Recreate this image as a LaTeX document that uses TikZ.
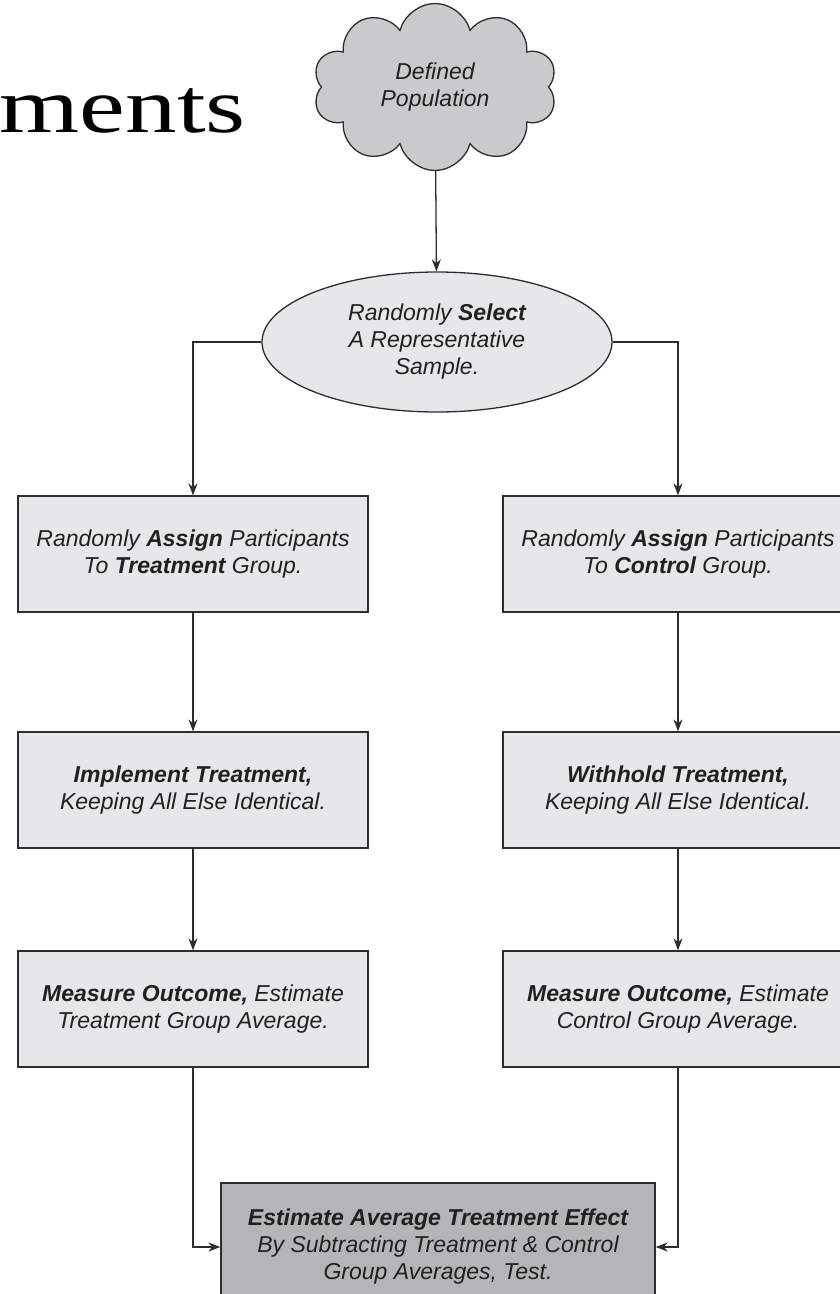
\documentclass[tikz,border=0pt]{standalone}
\usepackage{graphicx}
\usepackage{fontspec}
\setmainfont{Liberation Sans}
\newfontfamily\slidefont{Liberation Serif}
\usepackage{tikz}
\usetikzlibrary{shapes.geometric, shapes.symbols, arrows.meta}
\definecolor{BoxGray}{RGB}{230,231,232}
\definecolor{CloudGray}{RGB}{201,202,204}
\definecolor{EffectGray}{RGB}{180,181,183}
\definecolor{LineGray}{RGB}{45,45,45}
\definecolor{InkGray}{RGB}{35,31,32}

\begin{document}
\begin{tikzpicture}[x=1pt, y=-1pt,
          stepbox/.style={rectangle, draw=LineGray, line width=1.3pt,
                          fill=BoxGray, minimum width=350pt,
                          minimum height=116pt, inner sep=0pt, align=center,
                          text=InkGray,
                          font=\fontsize{23}{27}\selectfont\itshape},
          arr/.style={-{Stealth[length=12pt, width=9pt]}, draw=LineGray,
                      line width=1.3pt}
        ]
        \useasboundingbox (0,0) rectangle (839,1294);

        % Slide title fragment
        \node[anchor=base east, inner sep=0pt, text=black,
              font=\slidefont\fontsize{78}{78}\selectfont]
              (title) at (246,132) {\scalebox{1.32}[1]{ments}};

        % Population and sample
        \node[cloud, cloud puffs=10, aspect=1.45, draw=LineGray,
              line width=1.3pt, fill=CloudGray, minimum width=244pt,
              minimum height=167pt, inner sep=0pt, align=center,
              text=InkGray, font=\fontsize{23}{27}\selectfont\itshape]
              (pop) at (435,87) {Defined\\Population};
        \node[stepbox, ellipse, minimum width=350pt, minimum height=140pt]
              (sel) at (437,342)
              {Randomly \textbf{Select}\\A Representative\\Sample.};

        % Treatment group
        \node[stepbox] (tasg) at (193,554)
              {Randomly \textbf{Assign} Participants\\To \textbf{Treatment} Group.};
        \node[stepbox] (timp) at (193,790)
              {\textbf{Implement Treatment,}\\Keeping All Else Identical.};
        \node[stepbox] (tmeas) at (193,1009)
              {\textbf{Measure Outcome,} Estimate\\Treatment Group Average.};

        % Control group
        \node[stepbox] (casg) at (678,554)
              {Randomly \textbf{Assign} Participants\\To \textbf{Control} Group.};
        \node[stepbox] (cwth) at (678,790)
              {\textbf{Withhold Treatment,}\\Keeping All Else Identical.};
        \node[stepbox] (cmeas) at (678,1009)
              {\textbf{Measure Outcome,} Estimate\\Control Group Average.};

        % Effect estimate
        \node[stepbox, fill=EffectGray, minimum width=434pt,
              minimum height=128pt] (ate) at (438,1247)
              {\textbf{Estimate Average Treatment Effect}\\By Subtracting Treatment \& Control\\Group Averages, Test.};

        % Connectors
        \draw[arr] (pop) -- (sel);
        \draw[arr] (sel.west) -| (tasg);
        \draw[arr] (sel.east) -| (casg);
        \draw[arr] (tasg) -- (timp);
        \draw[arr] (timp) -- (tmeas);
        \draw[arr] (casg) -- (cwth);
        \draw[arr] (cwth) -- (cmeas);
        \draw[arr] (tmeas) |- (ate);
        \draw[arr] (cmeas) |- (ate);
      \end{tikzpicture}
\end{document}
